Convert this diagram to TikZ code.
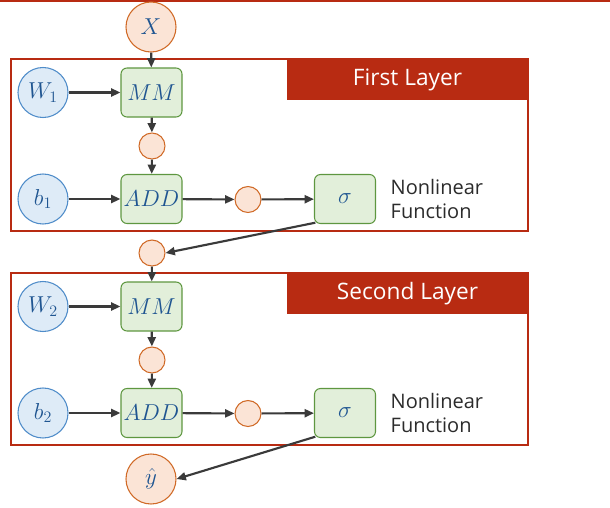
\documentclass[tikz,border=0pt]{standalone}
\usepackage{fontspec}
\setmainfont{Open Sans}
\usetikzlibrary{arrows.meta,positioning}

\definecolor{layerred}{HTML}{B82B12}
\definecolor{valfill}{HTML}{FBE4D6}
\definecolor{valdraw}{HTML}{D06A27}
\definecolor{parfill}{HTML}{DEEBF7}
\definecolor{pardraw}{HTML}{4F8CC9}
\definecolor{opfill}{HTML}{E2EFDA}
\definecolor{opdraw}{HTML}{5E9740}
\definecolor{mathblue}{HTML}{1F5591}
\definecolor{arrowgray}{HTML}{3A3A3A}
\definecolor{notegray}{HTML}{2B2B2B}

\tikzset{
    mathlbl/.style={text=mathblue, font=\fontsize{17}{20}\selectfont},
    value/.style={circle, draw=valdraw, fill=valfill, line width=0.8pt, minimum size=19.5pt, inner sep=0pt},
    io/.style={value, mathlbl, minimum size=37.5pt},
    param/.style={circle, draw=pardraw, fill=parfill, line width=0.8pt, minimum size=37.5pt, inner sep=0pt, mathlbl},
    op/.style={rectangle, rounded corners=4.5pt, draw=opdraw, fill=opfill, line width=0.8pt,
        minimum width=45.75pt, minimum height=36.75pt, inner sep=0pt, mathlbl},
    layerbox/.style={draw=layerred, line width=1.5pt, minimum width=387.75pt, minimum height=129pt, inner sep=0pt},
    titlebar/.style={fill=layerred, text=white, minimum width=180.75pt, minimum height=30.75pt,
        inner sep=0pt, font=\fontsize{17}{20}\selectfont},
    note/.style={anchor=west, align=left, text=notegray, font=\fontsize{15}{18}\selectfont},
    flow/.style={-{Triangle[length=7pt,width=6pt]}, line width=1.6pt, draw=arrowgray}
}

\begin{document}
\begin{tikzpicture}[x=0.75pt, y=-0.75pt]
    \useasboundingbox (0,0) rectangle (610,507);

    % Top rule
    \draw[layerred, line width=1.2pt] (0,0.75) -- (610,0.75);

    % Input and output
    \node[io] (X) at (151,27) {$X$};
    \node[io] (yhat) at (151,479) {$\hat{y}$};

    % Hidden value between the layers
    \node[value] (h1) at (152,253) {};

    % Layers
    \foreach \i/\dy/\title in {1/0/First Layer, 2/214/Second Layer} {
        \node[layerbox] (L\i) at (269.5,{145+\dy}) {};
        \node[titlebar] (T\i) at (407.5,{79.5+\dy}) {\title};

        \node[param] (W\i) at (43,{92.5+\dy}) {$W_\i$};
        \node[op] (MM\i) at (151.5,{92.5+\dy}) {$MM$};
        \node[value] (m\i) at (152,{146+\dy}) {};
        \node[param] (b\i) at (43,{199+\dy}) {$b_\i$};
        \node[op] (ADD\i) at (151.5,{199+\dy}) {$ADD$};
        \node[value] (a\i) at (248,{199.5+\dy}) {};
        \node[op] (sig\i) at (345,{199+\dy}) {$\sigma$};
        \node[note] (nl\i) at (386,{199+\dy}) {Nonlinear\\Function};

        \draw[flow] (W\i) -- (MM\i);
        \draw[flow] (MM\i) -- (m\i);
        \draw[flow] (m\i) -- (ADD\i);
        \draw[flow] (b\i) -- (ADD\i);
        \draw[flow] (ADD\i) -- (a\i);
        \draw[flow] (a\i) -- (sig\i);
    }

    % Connections between layers
    \draw[flow] (X) -- (MM1);
    \draw[flow] ([xshift=1pt,yshift=1pt]sig1.south west) -- (h1.east);
    \draw[flow] (h1) -- (MM2);
    \draw[flow] ([xshift=1pt,yshift=1pt]sig2.south west) -- (yhat.east);

\end{tikzpicture}
\end{document}
